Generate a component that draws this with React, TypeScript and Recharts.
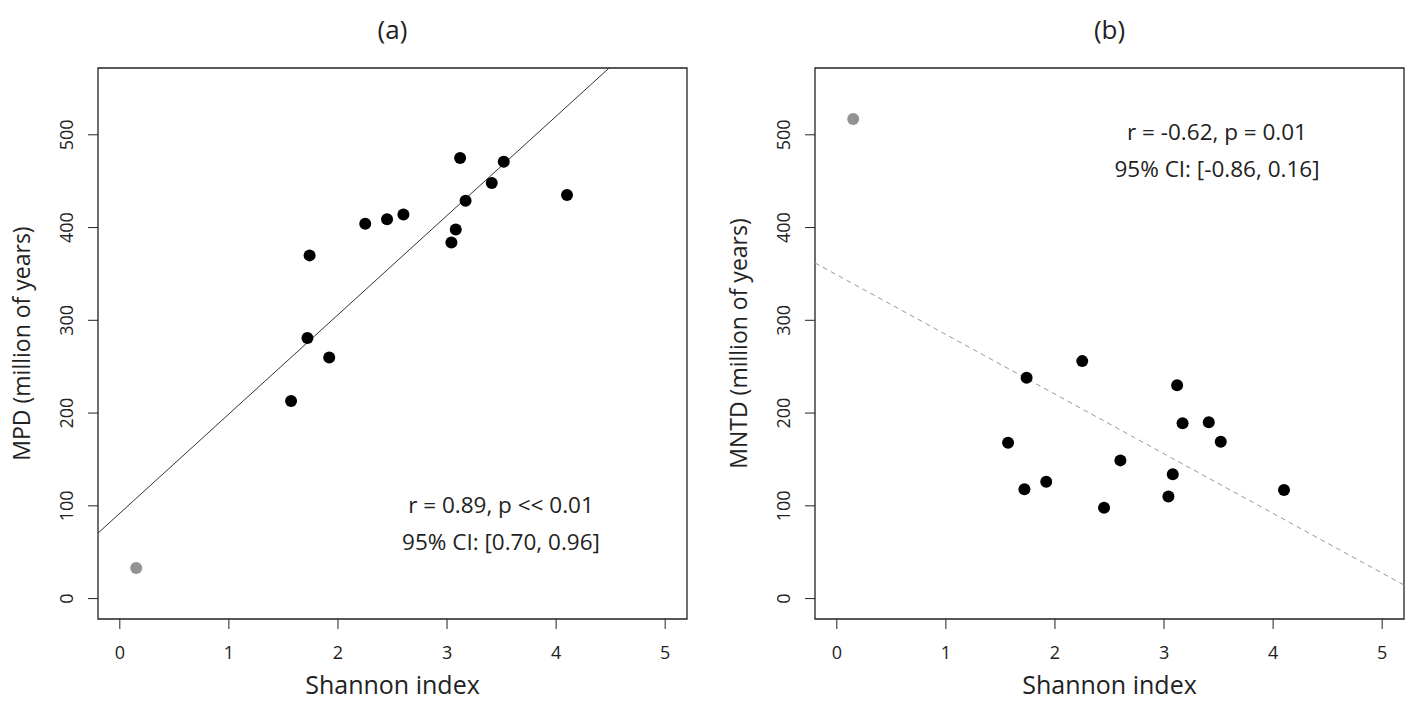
import {
  ScatterChart,
  Scatter,
  XAxis,
  YAxis,
  ReferenceArea,
  ReferenceLine,
} from "recharts";

// Shannon index of each community (same x for both panels)
const shannon = [1.57, 1.72, 1.74, 1.92, 2.25, 2.45, 2.6, 3.04, 3.08, 3.12, 3.17, 3.41, 3.52, 4.1];
const mpd = [213, 281, 370, 260, 404, 409, 414, 384, 398, 475, 429, 448, 471, 435];
const mntd = [168, 118, 238, 126, 256, 98, 149, 110, 134, 230, 189, 190, 169, 117];

// grey outlier community
const outlierShannon = [0.15];
const outlierMpd = [33];
const outlierMntd = [517];

const xTicks = [0, 1, 2, 3, 4, 5];
const yTicks = [0, 100, 200, 300, 400, 500];
const xDomain: [number, number] = [-0.2, 5.2];
const yDomain: [number, number] = [-22, 572];

// fitted lines (intercept, slope)
const fitA = { a: 92, b: 107 };
const fitB = { a: 349, b: -64.3 };

const FONT = "'Open Sans', 'Noto Sans', sans-serif";
const INK = "#222";
const TICK_STYLE = { fontSize: 18, fontFamily: FONT, fill: INK };

const toPoints = (xs: number[], ys: number[]) => xs.map((x, i) => ({ x, y: ys[i] }));

const Dot = (color: string) => (props: any) =>
  <circle cx={props.cx} cy={props.cy} r={6} fill={color} />;

const XTick = (props: any) => (
  <text x={props.x} y={props.y + 28} textAnchor="middle" style={TICK_STYLE}>
    {props.payload.value}
  </text>
);

const YTick = (props: any) => {
  const x = props.x - 13;
  return (
    <text x={x} y={props.y} transform={`rotate(-90, ${x}, ${props.y})`} textAnchor="middle" style={TICK_STYLE}>
      {props.payload.value}
    </text>
  );
};

interface PanelProps {
  title: string;
  yLabel: string;
  ys: number[];
  outY: number[];
  fit: { a: number; b: number };
  dashed: boolean;
  left: number;
  right: number;
  notes: string[];
  noteX: number;
  noteY: number;
}

const W = 704;
const H = 702;
const TOP = 68;
const BOTTOM = 83;
const YW = 60; // y axis width
const XH = 40; // x axis height

const Panel = ({ title, yLabel, ys, outY, fit, dashed, left, right, notes, noteX, noteY }: PanelProps) => {
  const cx = left + (W - left - right) / 2;
  const cy = TOP + (H - TOP - BOTTOM) / 2;
  return (
    <ScatterChart width={W} height={H} margin={{ top: TOP, right, bottom: BOTTOM - XH, left: left - YW }}>
      <XAxis
        type="number"
        dataKey="x"
        domain={xDomain}
        ticks={xTicks}
        allowDataOverflow
        height={XH}
        axisLine={false}
        tickSize={10}
        tickLine={{ stroke: INK }}
        tick={XTick}
      />
      <YAxis
        type="number"
        dataKey="y"
        domain={yDomain}
        ticks={yTicks}
        allowDataOverflow
        width={YW}
        axisLine={false}
        tickSize={10}
        tickLine={{ stroke: INK }}
        tick={YTick}
      />
      <ReferenceArea
        x1={xDomain[0]}
        x2={xDomain[1]}
        y1={yDomain[0]}
        y2={yDomain[1]}
        fill="none"
        stroke={INK}
        strokeWidth={1.3}
      />
      <ReferenceLine
        segment={[
          { x: xDomain[0], y: fit.a + fit.b * xDomain[0] },
          { x: xDomain[1], y: fit.a + fit.b * xDomain[1] },
        ]}
        ifOverflow="hidden"
        stroke={dashed ? "#999" : "#333"}
        strokeWidth={1}
        strokeDasharray={dashed ? "5 4" : undefined}
      />
      <Scatter data={toPoints(shannon, ys)} shape={Dot("#000")} isAnimationActive={false} />
      <Scatter data={toPoints(outlierShannon, outY)} shape={Dot("#929292")} isAnimationActive={false} />
      <text x={cx} y={39} textAnchor="middle" fontSize={26} fontFamily={FONT} fill={INK}>
        {title}
      </text>
      <text x={cx} y={694} textAnchor="middle" fontSize={25} fontFamily={FONT} fill={INK}>
        Shannon index
      </text>
      <text
        x={0}
        y={0}
        transform={`translate(${left - 68}, ${cy}) rotate(-90)`}
        textAnchor="middle"
        fontSize={23}
        fontFamily={FONT}
        fill={INK}
      >
        {yLabel}
      </text>
      {notes.map((n, i) => (
        <text key={n} x={noteX} y={noteY + i * 37} textAnchor="middle" fontSize={22.5} fontFamily={FONT} fill={INK}>
          {n}
        </text>
      ))}
    </ScatterChart>
  );
};

export default function App() {
  return (
    <div style={{ position: "absolute", left: 0, top: 0, width: 1408, height: 702, display: "flex", background: "#fff" }}>
      <Panel
        title="(a)"
        yLabel="MPD (million of years)"
        ys={mpd}
        outY={outlierMpd}
        fit={fitA}
        dashed={false}
        left={98}
        right={17}
        notes={["r = 0.89, p << 0.01", "95% CI: [0.70, 0.96]"]}
        noteX={501}
        noteY={513}
      />
      <Panel
        title="(b)"
        yLabel="MNTD (million of years)"
        ys={mntd}
        outY={outlierMntd}
        fit={fitB}
        dashed={true}
        left={111}
        right={4}
        notes={["r = -0.62, p = 0.01", "95% CI: [-0.86, 0.16]"]}
        noteX={513}
        noteY={140}
      />
    </div>
  );
}
